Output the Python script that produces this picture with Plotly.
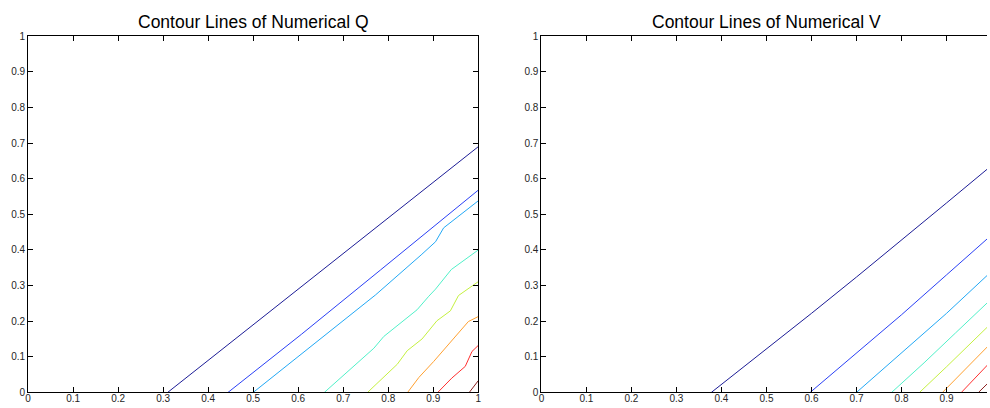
import plotly.graph_objects as go

# ---------------- data ----------------
colors = ["#1c1c96", "#2a40f5", "#22a8f5", "#50f0c8", "#c4f040", "#ffa030", "#ff3030", "#8c2020"]

q_x = [
    [0.31, 1.0],
    [0.444, 0.607, 0.783, 0.86, 0.89, 1.0],
    [0.50, 0.607, 0.772, 0.873, 0.905, 0.923, 1.0],
    [0.658, 0.768, 0.79, 0.864, 0.89, 0.905, 0.94, 1.0],
    [0.754, 0.787, 0.82, 0.842, 0.875, 0.908, 0.938, 0.956, 1.0],
    [0.843, 0.868, 0.901, 0.952, 0.978, 1.0],
    [0.91, 0.941, 0.971, 0.986, 1.0],
    [0.98, 1.0],
]
q_y = [
    [0.0, 0.69],
    [0.0, 0.163, 0.344, 0.423, 0.456, 0.568],
    [0.0, 0.107, 0.274, 0.386, 0.423, 0.462, 0.538],
    [0.0, 0.124, 0.157, 0.232, 0.27, 0.29, 0.345, 0.40],
    [0.0, 0.04, 0.079, 0.117, 0.15, 0.201, 0.229, 0.272, 0.311],
    [0.0, 0.042, 0.087, 0.162, 0.199, 0.213],
    [0.0, 0.04, 0.073, 0.115, 0.132],
    [0.0, 0.033],
]

v_x = [
    [0.3775, 0.5, 0.6, 0.7, 0.8, 0.9, 1.0],
    [0.597, 0.7, 0.8, 0.9, 1.0],
    [0.70, 0.8, 0.9, 1.0],
    [0.778, 0.85, 0.92, 1.0],
    [0.840, 0.9, 1.0],
    [0.891, 0.94, 1.0],
    [0.933, 1.0],
    [0.971, 1.0],
]
v_y = [
    [0.0, 0.121, 0.222, 0.324, 0.427, 0.532, 0.637],
    [0.0, 0.11, 0.218, 0.33, 0.442],
    [0.0, 0.11, 0.222, 0.34],
    [0.0, 0.083, 0.167, 0.263],
    [0.0, 0.072, 0.195],
    [0.0, 0.062, 0.14],
    [0.0, 0.089],
    [0.0, 0.036],
]

tick_vals = [0, 0.1, 0.2, 0.3, 0.4, 0.5, 0.6, 0.7, 0.8, 0.9, 1]
tick_text = ["0", "0.1", "0.2", "0.3", "0.4", "0.5", "0.6", "0.7", "0.8", "0.9", "1"]
titles = ["Contour Lines of Numerical Q", "Contour Lines of Numerical V"]

# ---------------- figure ----------------
W, H = 990, 408
fig = go.Figure()

for xs, ys, c in zip(q_x, q_y, colors):
    fig.add_trace(go.Scatter(x=xs, y=ys, mode="lines", line=dict(color=c, width=1),
                             xaxis="x", yaxis="y", showlegend=False, hoverinfo="skip"))
for xs, ys, c in zip(v_x, v_y, colors):
    fig.add_trace(go.Scatter(x=xs, y=ys, mode="lines", line=dict(color=c, width=1),
                             xaxis="x2", yaxis="y2", showlegend=False, hoverinfo="skip"))

ax_left = (25.3, 478.2)
ax_right_start = 541.7
ax_w = ax_left[1] - ax_left[0]
right_range_end = (W - ax_right_start) / ax_w
plot_top, plot_bottom = 31.1, 397.1
y_dom = ((H - plot_bottom) / H, (H - plot_top) / H)

font = dict(family="Liberation Sans, Arial, Helvetica, sans-serif", size=10, color="#262626")

common = dict(
    tickmode="array", tickvals=tick_vals, ticktext=tick_text,
    ticks="inside", ticklen=5, tickwidth=1, tickcolor="#000",
    showline=True, linecolor="#000", linewidth=1,
    showgrid=False, zeroline=False, tickfont=font, fixedrange=True,
)

fig.update_layout(
    width=W, height=H,
    margin=dict(l=0, r=0, t=0, b=0),
    paper_bgcolor="white", plot_bgcolor="white",
    xaxis=dict(domain=[ax_left[0] / W, ax_left[1] / W], range=[0, 1], anchor="y",
               mirror="ticks", ticklabelstandoff=-3, **common),
    yaxis=dict(domain=list(y_dom), range=[0, 1], anchor="x", mirror="ticks", **common),
    xaxis2=dict(domain=[ax_right_start / W, 1.0], range=[0, right_range_end], anchor="y2",
                mirror="ticks", ticklabelstandoff=-3, **common),
    yaxis2=dict(domain=list(y_dom), range=[0, 1], anchor="x2", mirror=False, **common),
)

centers = [(ax_left[0] + ax_left[1]) / 2, ax_right_start + ax_w / 2]
for t, cx in zip(titles, centers):
    fig.add_annotation(text=t, x=cx / W, y=(H - 16.5) / H, xref="paper", yref="paper",
                       xanchor="center", yanchor="middle", showarrow=False,
                       font=dict(family="Liberation Sans, Arial, Helvetica, sans-serif",
                                 size=17.5, color="#000"))

fig.write_html(
    "out.html",
    config={"displayModeBar": False},
    post_script=(
        "document.documentElement.style.margin='0';"
        "document.documentElement.style.overflow='hidden';"
        "document.body.style.margin='0';"
        "document.body.style.overflow='hidden';"
    ),
)
